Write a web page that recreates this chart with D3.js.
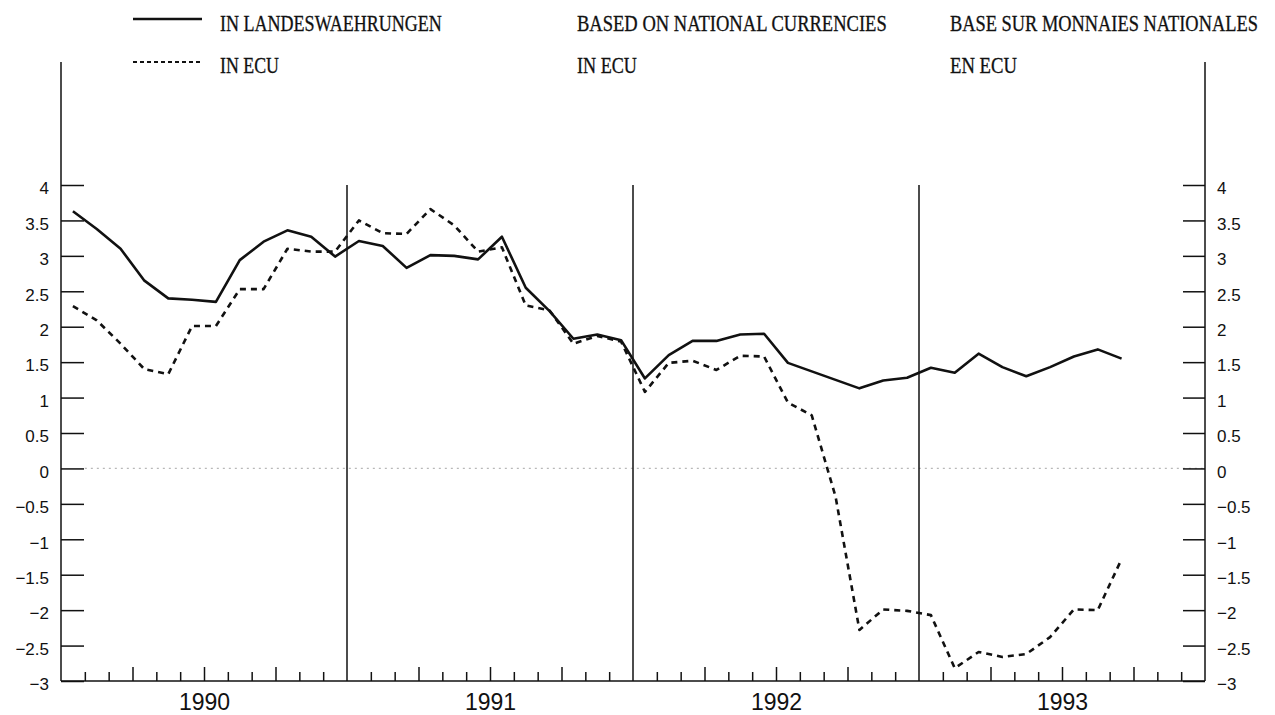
<!DOCTYPE html>
<html>
<head>
<meta charset="utf-8">
<script src="https://cdn.jsdelivr.net/npm/d3@7"></script>
<style>
  html, body { margin: 0; padding: 0; background: #fff; }
  svg { display: block; }
</style>
</head>
<body>
<svg id="chart" width="1275" height="715"></svg>
<script>
// ---- data ----
const years = [1990, 1991, 1992, 1993];
const startYear = 1990;
// monthly values Jan 1990 .. Sep 1993
const nationalCurrencies = [
  3.63, 3.38, 3.10, 2.65, 2.40, 2.38, 2.35, 2.94, 3.20, 3.36, 3.27, 2.99,
  3.21, 3.14, 2.83, 3.01, 3.00, 2.95, 3.27, 2.55, 2.22, 1.83, 1.89, 1.81,
  1.27, 1.60, 1.80, 1.80, 1.89, 1.90, 1.49, 1.37, 1.25, 1.13, 1.24, 1.28,
  1.42, 1.35, 1.62, 1.43, 1.30, 1.43, 1.58, 1.68, 1.55
];
const inEcu = [
  2.29, 2.09, 1.76, 1.40, 1.33, 2.01, 2.01, 2.53, 2.53, 3.10, 3.06, 3.06,
  3.50, 3.32, 3.31, 3.66, 3.43, 3.06, 3.12, 2.30, 2.23, 1.76, 1.87, 1.79,
  1.08, 1.49, 1.52, 1.39, 1.59, 1.58, 0.93, 0.75, -0.40, -2.28, -1.99, -2.01,
  -2.07, -2.82, -2.59, -2.66, -2.62, -2.38, -1.99, -2.00, -1.28
];
const yTicks = [4, 3.5, 3, 2.5, 2, 1.5, 1, 0.5, 0, -0.5, -1, -1.5, -2, -2.5, -3];
const legendSolid = ["IN LANDESWAEHRUNGEN", "BASED ON NATIONAL CURRENCIES", "BASE SUR MONNAIES NATIONALES"];
const legendDashed = ["IN ECU", "IN ECU", "EN ECU"];

// ---- layout ----
const svg = d3.select("#chart");
const L = 61, R = 1205, T = 185, B = 681, axisTop = 62;
const nMonths = years.length * 12;
const x = d3.scaleLinear().domain([0, nMonths]).range([L, R]);
const y = d3.scaleLinear().domain([-3, 4]).range([B, T]);
const tickFont = "'Liberation Sans', Arial, sans-serif";

// zero dotted reference line
svg.append("line")
  .attr("x1", x(1)).attr("x2", R).attr("y1", y(0)).attr("y2", y(0))
  .attr("stroke", "#b8b8b8").attr("stroke-width", 1.2).attr("stroke-dasharray", "2,4");

// left axis
const gl = svg.append("g").attr("transform", `translate(${L},0)`)
  .call(d3.axisLeft(y).tickValues(yTicks).tickSizeInner(-23).tickSizeOuter(0).tickPadding(12)
        .tickFormat(d3.format("")));
// right axis
const gr = svg.append("g").attr("transform", `translate(${R},0)`)
  .call(d3.axisRight(y).tickValues(yTicks).tickSizeInner(-22).tickSizeOuter(0).tickPadding(12)
        .tickFormat(d3.format("")));
[gl, gr].forEach(g => {
  g.select(".domain").remove();
  g.selectAll(".tick line").attr("stroke", "#111").attr("stroke-width", 1.5);
  g.selectAll(".tick text").attr("font-family", tickFont).attr("font-size", 17)
    .attr("fill", "#111").attr("dy", "0.52em");
});
// axis vertical lines
[L, R].forEach(px => svg.append("line")
  .attr("x1", px).attr("x2", px).attr("y1", axisTop).attr("y2", B)
  .attr("stroke", "#111").attr("stroke-width", 1.5));

// bottom axis: month ticks inward, quarter ticks longer
const monthIdx = d3.range(1, nMonths).filter(m => m % 12 !== 0);
const gb1 = svg.append("g").attr("transform", `translate(0,${B})`)
  .call(d3.axisBottom(x).tickValues(monthIdx.filter(m => m % 3 !== 0)).tickSizeInner(-9).tickSizeOuter(0).tickFormat(""));
const gb2 = svg.append("g").attr("transform", `translate(0,${B})`)
  .call(d3.axisBottom(x).tickValues(monthIdx.filter(m => m % 3 === 0)).tickSizeInner(-14).tickSizeOuter(0).tickFormat(""));
[gb1, gb2].forEach(g => {
  g.select(".domain").remove();
  g.selectAll(".tick line").attr("stroke", "#111").attr("stroke-width", 1.5);
});
svg.append("line").attr("x1", L).attr("x2", R).attr("y1", B).attr("y2", B)
  .attr("stroke", "#111").attr("stroke-width", 1.5);

// year labels
const gy = svg.append("g").attr("transform", `translate(0,${B})`)
  .call(d3.axisBottom(x).tickValues(years.map((yr, i) => i * 12 + 6)).tickSize(0).tickPadding(0)
        .tickFormat((d, i) => String(years[i])));
gy.select(".domain").remove();
gy.selectAll(".tick text").attr("font-family", tickFont).attr("font-size", 23)
  .attr("fill", "#111").attr("dy", 0).attr("y", 29);

// year separator lines
years.slice(1).forEach((yr) => {
  const m = (yr - startYear) * 12;
  svg.append("line").attr("x1", x(m)).attr("x2", x(m)).attr("y1", y(4)).attr("y2", B)
    .attr("stroke", "#111").attr("stroke-width", 1.5);
});

// series
const line = d3.line().x((d, i) => x(i + 0.5)).y(d => y(d));
svg.append("path").datum(inEcu).attr("d", line)
  .attr("fill", "none").attr("stroke", "#111").attr("stroke-width", 2.6)
  .attr("stroke-dasharray", "6,5").attr("stroke-linejoin", "round");
svg.append("path").datum(nationalCurrencies).attr("d", line)
  .attr("fill", "none").attr("stroke", "#111").attr("stroke-width", 2.6)
  .attr("stroke-linejoin", "round");

// legend
const legFont = "'Liberation Serif', 'Times New Roman', serif";
svg.append("line").attr("x1", 133).attr("x2", 202).attr("y1", 19).attr("y2", 19)
  .attr("stroke", "#111").attr("stroke-width", 2.6);
svg.append("line").attr("x1", 133).attr("x2", 202).attr("y1", 62).attr("y2", 62)
  .attr("stroke", "#111").attr("stroke-width", 2).attr("stroke-dasharray", "4,3");
const legX = [220, 577, 950];
const legW1 = [222, 310, 308];
const legW2 = [59, 60, 67];
function legendText(t, px, py, w) {
  const el = svg.append("text").attr("x", 0).attr("y", 0).text(t)
    .attr("font-family", legFont).attr("font-size", 23).attr("fill", "#111")
    .attr("stroke", "#111").attr("stroke-width", 0.3);
  const nat = el.node().getComputedTextLength();
  el.attr("transform", `translate(${px},${py}) scale(${w / nat},1)`);
}
legendSolid.forEach((t, i) => legendText(t, legX[i], 31, legW1[i]));
legendDashed.forEach((t, i) => legendText(t, legX[i], 73, legW2[i]));
</script>
</body>
</html>
